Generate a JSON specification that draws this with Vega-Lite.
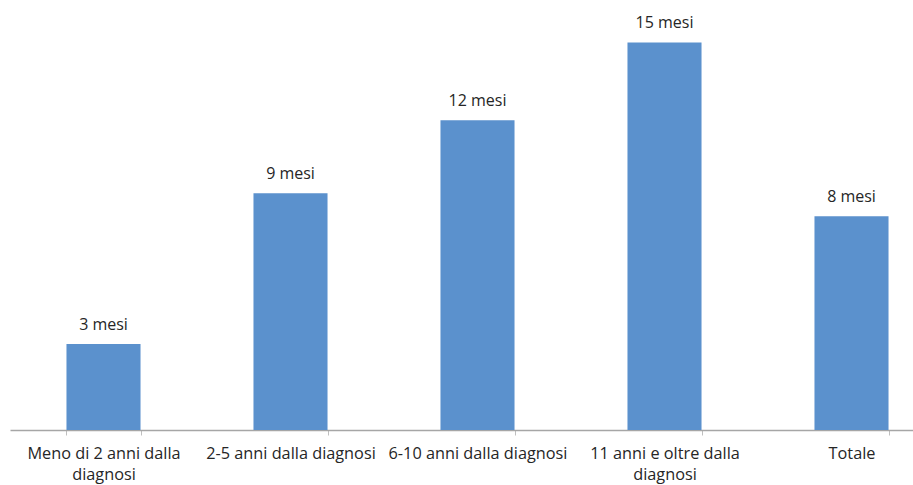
{
  "$schema": "https://vega.github.io/schema/vega-lite/v6.json",
  "width": 935,
  "height": 414,
  "autosize": {"type": "none"},
  "padding": {"left": 10, "top": 16, "right": 0, "bottom": 55},
  "background": "white",
  "config": {"view": {"stroke": null}, "font": "Open Sans"},
  "data": {"values": [
    {"cat": "Meno di 2 anni dalla diagnosi", "v": 3.32, "lab": "3 mesi"},
    {"cat": "2-5 anni dalla diagnosi", "v": 9.15, "lab": "9 mesi"},
    {"cat": "6-10 anni dalla diagnosi", "v": 11.97, "lab": "12 mesi"},
    {"cat": "11 anni e oltre dalla diagnosi", "v": 14.98, "lab": "15 mesi"},
    {"cat": "Totale", "v": 8.26, "lab": "8 mesi"}
  ]},
  "encoding": {
    "x": {"field": "cat", "type": "nominal", "sort": null,
      "scale": {"paddingInner": 0.604, "paddingOuter": 0.302},
      "axis": {"title": null, "labelAngle": 0, "tickBand": "extent", "tickSize": 5, "tickColor": "#bfbfbf", "domainColor": "#a6a6a6", "domainWidth": 1.5, "labelFontSize": 16.3, "labelColor": "#262626", "labelPadding": 10, "labelBaseline": "top", "labelLineHeight": 21, "labelLimit": 0,
        "labelExpr": "datum.value == 'Meno di 2 anni dalla diagnosi' ? ['Meno di 2 anni dalla', 'diagnosi'] : datum.value == '11 anni e oltre dalla diagnosi' ? ['11 anni e oltre dalla', 'diagnosi'] : datum.value"}},
    "y": {"field": "v", "type": "quantitative", "scale": {"domain": [0, 16], "nice": false}, "axis": null}
  },
  "layer": [
    {"mark": {"type": "bar", "color": "#5b91cd"}},
    {"mark": {"type": "text", "baseline": "bottom", "dy": -11, "fontSize": 16, "color": "#262626"},
     "encoding": {"text": {"field": "lab"}}}
  ]
}
